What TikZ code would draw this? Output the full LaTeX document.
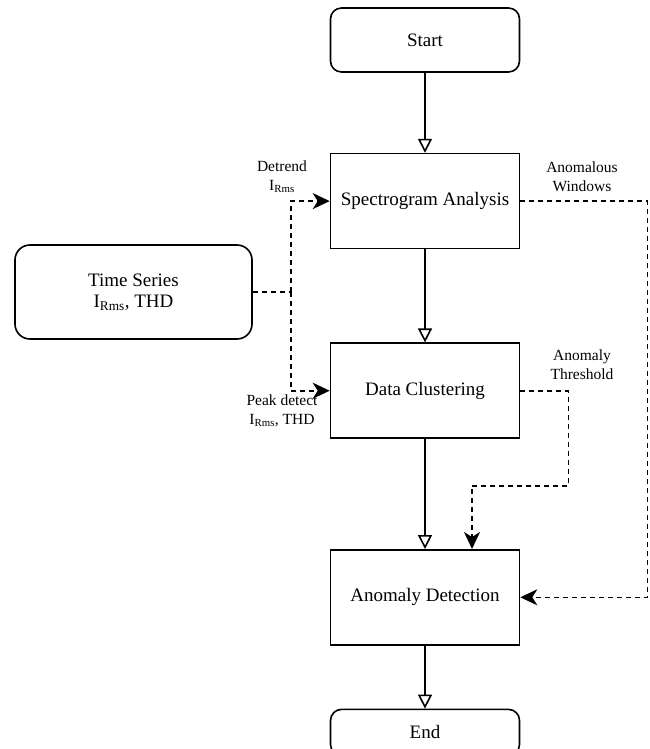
\documentclass[tikz,border=0pt]{standalone}
\usepackage{fontspec}
\setmainfont{Liberation Serif}
\usetikzlibrary{arrows.meta,positioning,calc}

\begin{document}
\begin{tikzpicture}[x=1pt,y=-1pt,
  box/.style={draw,line width=1.6pt,minimum width=189pt,minimum height=95pt,align=center,inner sep=0pt,font=\fontsize{19}{21}\selectfont},
  term/.style={box,rounded corners=11pt,minimum height=64pt},
  flow/.style={line width=1.6pt,-{Triangle[open,length=14pt,width=14pt]}},
  dline/.style={line width=1.6pt,dash pattern=on 5pt off 4pt},
  dflow/.style={dline,-{Stealth[length=17pt,width=16pt,inset=5pt]}},
  lbl/.style={align=center,inner sep=0pt,font=\fontsize{15.5}{19}\selectfont}]
\useasboundingbox (0,0) rectangle (649,749);
% main chain
\node[term] (start) at (425,40) {Start};
\node[box,below=80pt of start] (spec) {Spectrogram Analysis};
\node[box,below=93pt of spec] (clus) {Data Clustering};
\node[box,below=110pt of clus] (detect) {Anomaly Detection};
\node[term,minimum height=46pt,below=63pt of detect] (end) {End};
\node[box,rounded corners=15pt,minimum width=237pt,minimum height=94pt] (series) at (133.5,292) {Time Series\\I\textsubscript{Rms}, THD};
\draw[flow] (start) -- (spec);
\draw[flow] (spec) -- (clus);
\draw[flow] (clus) -- (detect);
\draw[flow] (detect) -- (end);
% inputs
\coordinate (fork) at (291,292);
\draw[dline] (series) -- (fork);
\draw[dflow] (fork) |- (spec);
\draw[dflow] (fork) |- (clus);
\node[lbl] (detrend) at (282,177) {Detrend\\I\textsubscript{Rms}};
\node[lbl] (peak) at (282,411) {Peak detect\\I\textsubscript{Rms}, THD};
% feedback to detection
\draw[dflow] (spec.east) -- ++(127,0) |- (detect);
\draw[dflow] (clus.east) -- ++(48,0) -- ++(0,95) -| ([xshift=47pt]detect.north);
\node[lbl] (windows) at (582,177) {Anomalous\\Windows};
\node[lbl] (thresh) at (582,365) {Anomaly\\Threshold};
\end{tikzpicture}
\end{document}
